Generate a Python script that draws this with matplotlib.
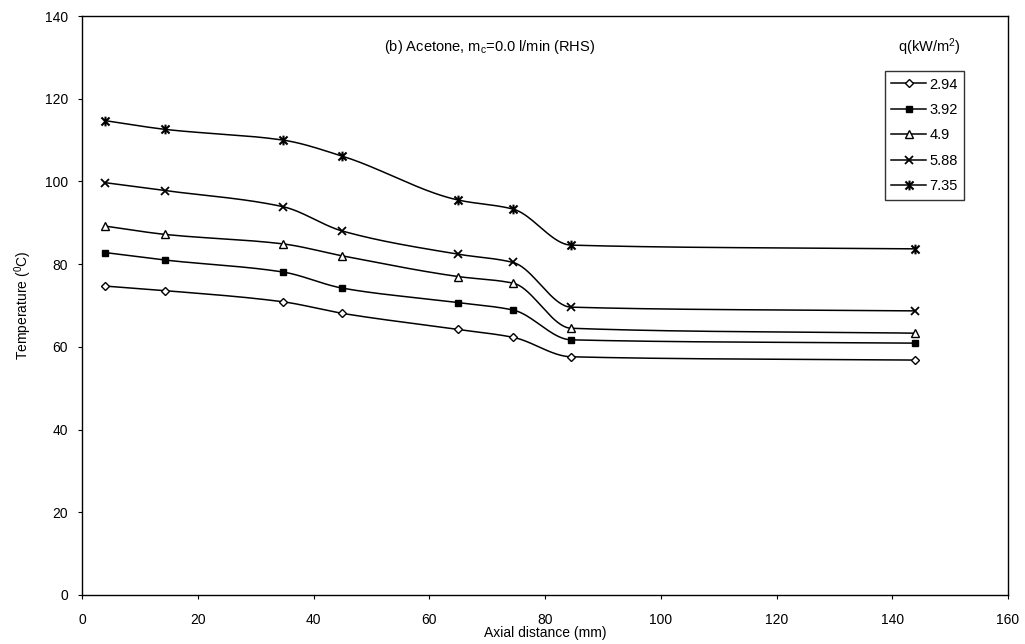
import numpy as np
import matplotlib
matplotlib.use("Agg")
import matplotlib.pyplot as plt
from matplotlib.path import Path

plt.rcParams['font.family'] = ['Liberation Sans', 'DejaVu Sans']
plt.rcParams['mathtext.fontset'] = 'custom'
plt.rcParams['mathtext.rm'] = 'Liberation Sans'
plt.rcParams['mathtext.it'] = 'Liberation Sans'

# Data
axial_mm = [4, 14.3, 34.7, 45, 65, 74.5, 84.5, 144]
q_labels = ["2.94", "3.92", "4.9", "5.88", "7.35"]
t_294 = [74.7, 73.6, 70.9, 68.1, 64.2, 62.3, 57.6, 56.8]
t_392 = [82.8, 81.0, 78.1, 74.2, 70.7, 68.9, 61.7, 60.9]
t_490 = [89.2, 87.2, 84.9, 82.0, 77.0, 75.4, 64.5, 63.3]
t_588 = [99.7, 97.8, 93.9, 88.0, 82.4, 80.4, 69.6, 68.7]
t_735 = [114.7, 112.6, 110.0, 106.1, 95.5, 93.3, 84.6, 83.7]
x_ticks = [0, 20, 40, 60, 80, 100, 120, 140, 160]
y_ticks = [0, 20, 40, 60, 80, 100, 120, 140]

series = [t_294, t_392, t_490, t_588, t_735]

# Excel-like "star" marker: x with a vertical bar
star_path = Path(
    [(-1, -1), (1, 1), (-1, 1), (1, -1), (0, -1.2), (0, 1.2)],
    [Path.MOVETO, Path.LINETO, Path.MOVETO, Path.LINETO, Path.MOVETO, Path.LINETO])

styles = [
    dict(marker='D', markersize=4, markerfacecolor='white', markeredgewidth=1.0),
    dict(marker='s', markersize=5, markerfacecolor='black', markeredgewidth=1.0),
    dict(marker='^', markersize=6, markerfacecolor='white', markeredgewidth=1.0),
    dict(marker='x', markersize=6, markeredgewidth=1.3),
    dict(marker=star_path, markersize=7, markeredgewidth=1.5),
]


def smooth(x, y, n=40):
    """Monotone cubic (PCHIP-style) smoothing of the line through the data points."""
    x = np.asarray(x, float)
    y = np.asarray(y, float)
    h = np.diff(x)
    d = np.diff(y) / h
    m = np.zeros_like(y)
    for k in range(1, len(x) - 1):
        if d[k - 1] * d[k] > 0:
            w1 = 2 * h[k] + h[k - 1]
            w2 = h[k] + 2 * h[k - 1]
            m[k] = (w1 + w2) / (w1 / d[k - 1] + w2 / d[k])
    m[0] = d[0]
    m[-1] = d[-1]
    xs, ys = [], []
    for i in range(len(x) - 1):
        t = np.linspace(0, 1, n)
        h00 = 2 * t**3 - 3 * t**2 + 1
        h10 = t**3 - 2 * t**2 + t
        h01 = -2 * t**3 + 3 * t**2
        h11 = t**3 - t**2
        yy = h00 * y[i] + h10 * h[i] * m[i] + h01 * y[i + 1] + h11 * h[i] * m[i + 1]
        xx = x[i] + t * h[i]
        if i > 0:
            xx, yy = xx[1:], yy[1:]
        xs.append(xx)
        ys.append(yy)
    return np.concatenate(xs), np.concatenate(ys)


fig = plt.figure(figsize=(10.25, 6.44), dpi=100)
ax = fig.add_axes([82 / 1025, 49 / 644, 926 / 1025, 579 / 644])

handles = []
for vals, lab, st in zip(series, q_labels, styles):
    sx, sy = smooth(axial_mm, vals)
    ax.plot(sx, sy, color='black', lw=1.1)
    ax.plot(axial_mm, vals, linestyle='none', color='black', markeredgecolor='black', **st)
    h, = ax.plot([], [], color='black', lw=1.1, markeredgecolor='black', label=lab, **st)
    handles.append(h)

ax.set_xlim(0, 160)
ax.set_ylim(0, 140)
ax.set_xticks(x_ticks)
ax.set_yticks(y_ticks)
ax.tick_params(direction='out', length=3, width=0.8, labelsize=10)
ax.tick_params(axis='x', pad=10)
ax.tick_params(axis='y', pad=7)
for sp in ax.spines.values():
    sp.set_linewidth(1.0)
    sp.set_color('black')

ax.set_xlabel('Axial distance (mm)', fontsize=10, labelpad=-1)
ax.set_ylabel('Temperature ($^{0}$C)', fontsize=10, labelpad=8)

ax.text(0.44, 0.946, '(b) Acetone, m$_{c}$=0.0 l/min (RHS)', transform=ax.transAxes,
        ha='center', va='center', fontsize=10.5)
ax.text(0.915, 0.946, 'q(kW/m$^{2}$)', transform=ax.transAxes,
        ha='center', va='center', fontsize=10.5)

leg = ax.legend(handles=handles, loc='upper left', bbox_to_anchor=(0.867, 0.905),
                frameon=True, fancybox=False, edgecolor='black', fontsize=10.5,
                handlelength=2.4, handletextpad=0.2, borderpad=0.45, labelspacing=0.78,
                borderaxespad=0)
leg.get_frame().set_linewidth(1.0)

fig.savefig('out.png', dpi=100, facecolor='white')
